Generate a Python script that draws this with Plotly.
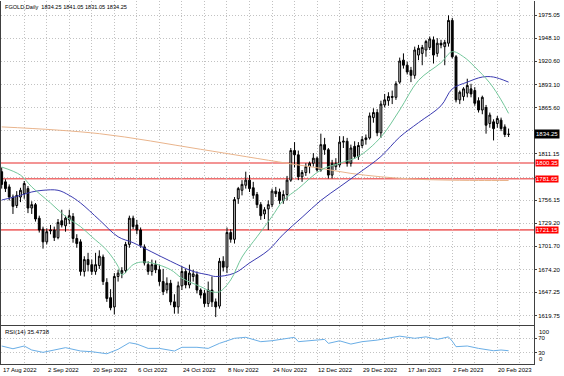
import plotly.graph_objects as go

# ---------------- data ----------------
opens = [1790, 1778, 1772, 1760, 1750, 1760, 1764, 1770, 1747, 1751,
         1735, 1722, 1707, 1720, 1721, 1712, 1732, 1726, 1733, 1737,
         1711, 1707, 1672, 1686, 1680, 1672, 1679, 1689, 1659, 1641,
         1630, 1666, 1670, 1673, 1704, 1735, 1727, 1721, 1701, 1680,
         1672, 1680, 1674, 1660, 1650, 1658, 1636, 1630, 1655, 1672,
         1656, 1666, 1668, 1650, 1646, 1634, 1650, 1636, 1631, 1684,
         1677, 1718, 1710, 1758, 1768, 1774, 1780, 1771, 1763, 1751,
         1740, 1746, 1751, 1767, 1766, 1756, 1763, 1780, 1815, 1810,
         1784, 1789, 1796, 1800, 1806, 1792, 1822, 1816, 1786, 1796,
         1798, 1825, 1826, 1800, 1820, 1808, 1821, 1828, 1830, 1854,
         1860, 1836, 1869, 1874, 1879, 1878, 1896, 1922, 1916, 1910,
         1904, 1928, 1930, 1934, 1937, 1946, 1930, 1942, 1938, 1942,
         1969, 1926, 1875, 1879, 1883, 1888, 1886, 1874, 1863, 1866,
         1847, 1849, 1847, 1851, 1843, 1834.25]
highs = [1795, 1781, 1775, 1763, 1767, 1771, 1779, 1773, 1755, 1753,
         1738, 1725, 1723, 1727, 1725, 1734, 1745, 1738, 1745, 1741,
         1716, 1710, 1690, 1694, 1686, 1694, 1697, 1692, 1664, 1651,
         1670, 1674, 1677, 1707, 1738, 1738, 1733, 1724, 1704, 1684,
         1686, 1685, 1680, 1675, 1665, 1662, 1645, 1660, 1678, 1675,
         1680, 1674, 1672, 1652, 1650, 1660, 1666, 1640, 1688, 1690,
         1724, 1722, 1760, 1772, 1780, 1790, 1786, 1778, 1766, 1754,
         1748, 1756, 1770, 1772, 1770, 1768, 1785, 1818, 1825, 1815,
         1792, 1800, 1802, 1812, 1808, 1835, 1830, 1818, 1804, 1806,
         1832, 1832, 1830, 1822, 1826, 1825, 1832, 1834, 1860, 1865,
         1864, 1874, 1882, 1884, 1886, 1897, 1925, 1930, 1920, 1914,
         1938, 1940, 1940, 1946, 1950, 1950, 1948, 1946, 1946, 1975,
         1972, 1928, 1886, 1890, 1900, 1894, 1890, 1878, 1880, 1869,
         1860, 1852, 1856, 1854, 1846, 1841.05]
lows = [1770, 1766, 1756, 1740, 1747, 1754, 1758, 1741, 1740, 1731,
        1718, 1699, 1704, 1716, 1708, 1710, 1724, 1719, 1728, 1706,
        1700, 1667, 1666, 1672, 1668, 1668, 1675, 1656, 1636, 1626,
        1621, 1660, 1664, 1670, 1700, 1722, 1716, 1700, 1679, 1668,
        1667, 1670, 1655, 1644, 1646, 1632, 1622, 1622, 1650, 1652,
        1652, 1660, 1646, 1640, 1630, 1630, 1630, 1618, 1628, 1672,
        1670, 1706, 1705, 1752, 1762, 1770, 1766, 1758, 1747, 1733,
        1734, 1721, 1748, 1760, 1752, 1752, 1756, 1778, 1795, 1780,
        1778, 1785, 1788, 1796, 1790, 1790, 1810, 1782, 1782, 1792,
        1795, 1818, 1796, 1796, 1805, 1804, 1818, 1822, 1828, 1848,
        1832, 1830, 1866, 1868, 1870, 1875, 1894, 1912, 1905, 1896,
        1900, 1922, 1916, 1926, 1934, 1918, 1926, 1936, 1916, 1938,
        1924, 1872, 1870, 1874, 1878, 1878, 1868, 1860, 1858, 1835,
        1842, 1827, 1842, 1838, 1831, 1831.05]
closes = [1775, 1770, 1760, 1749, 1762, 1768, 1776, 1747, 1751, 1734,
          1721, 1707, 1719, 1721, 1712, 1730, 1727, 1735, 1738, 1711,
          1705, 1672, 1686, 1680, 1672, 1680, 1690, 1660, 1640, 1629,
          1666, 1670, 1673, 1704, 1735, 1725, 1721, 1703, 1682, 1672,
          1680, 1674, 1660, 1648, 1658, 1636, 1630, 1655, 1672, 1656,
          1670, 1669, 1650, 1644, 1634, 1650, 1636, 1630, 1684, 1677,
          1718, 1710, 1757, 1770, 1775, 1780, 1770, 1762, 1751, 1738,
          1745, 1751, 1767, 1764, 1756, 1763, 1780, 1815, 1810, 1784,
          1789, 1796, 1800, 1806, 1792, 1822, 1816, 1786, 1800, 1800,
          1825, 1826, 1800, 1818, 1808, 1821, 1828, 1830, 1856, 1860,
          1836, 1870, 1875, 1879, 1878, 1894, 1921, 1916, 1908, 1904,
          1934, 1936, 1937, 1944, 1947, 1928, 1942, 1940, 1943, 1969,
          1926, 1875, 1884, 1888, 1892, 1882, 1871, 1863, 1878, 1845,
          1857, 1841, 1853, 1841, 1834, 1834.25]
bar_idx = list(range(len(opens)))

# moving averages, read at sampled bars
ma_fast_idx = [0, 5, 8, 13, 17, 21, 24, 28, 31, 32, 35, 37, 40, 45, 48, 53, 56, 58,
               61, 64, 68, 72, 75, 79, 85, 90, 95, 101, 106, 111, 117, 120, 123,
               126, 130, 133, 135]
ma_fast_val = [1795.5, 1786, 1772, 1753, 1737, 1725, 1713, 1697, 1678, 1668, 1680,
               1683, 1682, 1674, 1664, 1654, 1648, 1648, 1662, 1689, 1713, 1737,
               1756, 1770, 1792, 1800, 1808, 1831, 1863, 1898, 1919, 1932, 1926,
               1914, 1895, 1875, 1859]
ma_mid_idx = [0, 5, 8, 11, 15, 18, 21, 26, 31, 35, 40, 45, 51, 55, 57, 62, 66, 71,
              75, 80, 85, 90, 95, 101, 106, 111, 117, 120, 124, 128, 131, 135]
ma_mid_val = [1756.5, 1762, 1766, 1768, 1768, 1762, 1753, 1733, 1713, 1706, 1695,
              1684, 1672, 1668, 1666, 1670, 1682, 1697, 1716, 1736, 1756, 1772,
              1788, 1808, 1831, 1848, 1868, 1888, 1896, 1902, 1902, 1896]
ma_slow_idx = [0, 26, 53, 76, 85, 93, 101, 109, 117, 127, 135]
ma_slow_val = [1843, 1835, 1816.5, 1800, 1794, 1788, 1784, 1781.4, 1780.2, 1779.6, 1779.6]

rsi_idx = [0, 3, 6, 8, 11, 14, 17, 21, 24, 28, 31, 34, 36, 39, 42, 46, 48, 52, 55,
           58, 62, 65, 69, 72, 76, 78, 79, 83, 86, 87, 90, 93, 96, 100, 103, 106,
           110, 113, 116, 119, 120, 121, 124, 127, 131, 133, 135]
rsi_val = [48.6, 41, 48.6, 37.5, 31, 37.5, 44, 34.7, 32.8, 27, 39.4, 57.8, 54, 42,
           42, 34.7, 45, 45, 42, 56, 70, 72.8, 60.6, 63.3, 70, 72.8, 60.6, 65, 67,
           56, 63, 54, 60.6, 65, 70, 76, 70, 74, 67, 74, 62, 46.7, 48.6, 42, 35.5,
           37.5, 35.4738]

grid_idx = list(range(0, 142, 6))
date_tick_idx = [0, 12, 24, 36, 48, 60, 72, 84, 96, 108, 120, 132]
date_tick_text = ["17 Aug 2022", "2 Sep 2022", "20 Sep 2022", "6 Oct 2022",
                  "24 Oct 2022", "8 Nov 2022", "24 Nov 2022", "12 Dec 2022",
                  "29 Dec 2022", "17 Jan 2023", "2 Feb 2023", "20 Feb 2023"]

price_ticks = [1975.05, 1948.10, 1920.60, 1893.10, 1865.60, 1838.65, 1811.15,
               1783.65, 1756.15, 1729.20, 1701.70, 1674.20, 1647.25, 1619.75]
price_tick_text = ["1975.05", "1948.10", "1920.60", "1893.10", "1865.60", "",
                   "1811.15", "", "1756.15", "1729.20", "1701.70", "1674.20",
                   "1647.25", "1619.75"]

levels = [1800.35, 1781.65, 1721.15]
level_text = ["1800.35", "1781.65", "1721.15"]
last_price = 1834.25
title_text = "FGOLD,Daily  1834.25 1841.05 1831.05 1834.25"
rsi_text = "RSI(14) 35.4738"
rsi_ticks = [30, 70]
rsi_edge_vals = [100, 0]

# ---------------- figure ----------------
FONT = "Liberation Sans, Arial, sans-serif"
GRID = "#c2c2c2"
GDASH = "1px,2px"
FRAME = "#404040"

fig = go.Figure()

fig.add_trace(go.Candlestick(
    x=bar_idx, open=opens, high=highs, low=lows, close=closes,
    increasing=dict(line=dict(color="black", width=1), fillcolor="#c4c4c4"),
    decreasing=dict(line=dict(color="black", width=1), fillcolor="black"),
    whiskerwidth=0, showlegend=False, hoverinfo="skip",
    xaxis="x", yaxis="y"))

fig.add_trace(go.Scatter(x=ma_slow_idx, y=ma_slow_val, mode="lines",
                         line=dict(color="#e9b48c", width=1, shape="spline"),
                         showlegend=False, hoverinfo="skip", xaxis="x", yaxis="y"))
fig.add_trace(go.Scatter(x=ma_mid_idx, y=ma_mid_val, mode="lines",
                         line=dict(color="#3a3ab0", width=1, shape="spline"),
                         showlegend=False, hoverinfo="skip", xaxis="x", yaxis="y"))
fig.add_trace(go.Scatter(x=ma_fast_idx, y=ma_fast_val, mode="lines",
                         line=dict(color="#72c69a", width=1, shape="spline"),
                         showlegend=False, hoverinfo="skip", xaxis="x", yaxis="y"))

fig.add_trace(go.Scatter(x=rsi_idx, y=rsi_val, mode="lines",
                         line=dict(color="#6aaee6", width=1),
                         showlegend=False, hoverinfo="skip", xaxis="x2", yaxis="y2"))

# horizontal levels
for lv in levels:
    fig.add_shape(type="line", xref="x domain", yref="y", x0=0, x1=1, y0=lv, y1=lv,
                  line=dict(color="#ef7070", width=1.6), layer="below")

annotations = []
annotations.append(dict(text=title_text, xref="paper", yref="paper", x=0, y=1,
                        xanchor="left", yanchor="top", xshift=2, yshift=-1,
                        showarrow=False, font=dict(family=FONT, size=5.6, color="black")))
annotations.append(dict(text=rsi_text, xref="paper", yref="y2 domain", x=0, y=1,
                        xanchor="left", yanchor="top", xshift=2, yshift=-1,
                        showarrow=False, font=dict(family=FONT, size=6, color="black")))
for v, t in zip(levels, level_text):
    annotations.append(dict(text=t, xref="paper", yref="y", x=1, y=v,
                            xanchor="left", yanchor="middle", xshift=1,
                            showarrow=False, bgcolor="#ff0000", borderpad=0,
                            font=dict(family=FONT, size=6, color="white")))
annotations.append(dict(text=f"{last_price:.2f}", xref="paper", yref="y", x=1, y=last_price,
                        xanchor="left", yanchor="middle", xshift=0,
                        showarrow=False, bgcolor="black", borderpad=1,
                        font=dict(family=FONT, size=6, color="white")))
for i, t in zip(date_tick_idx, date_tick_text):
    annotations.append(dict(text=t, xref="x2", yref="paper", x=i, y=0,
                            xanchor="left", yanchor="top", xshift=-1, yshift=-1,
                            showarrow=False, font=dict(family=FONT, size=6, color="black")))
annotations.append(dict(text=str(rsi_edge_vals[0]), xref="paper", yref="y2", x=1,
                        y=rsi_edge_vals[0], xanchor="left", yanchor="top", xshift=3, yshift=1,
                        showarrow=False, font=dict(family=FONT, size=6, color="black")))
annotations.append(dict(text=str(rsi_edge_vals[1]), xref="paper", yref="y2", x=1,
                        y=rsi_edge_vals[1], xanchor="left", yanchor="bottom", xshift=3, yshift=-1,
                        showarrow=False, font=dict(family=FONT, size=6, color="black")))

xr = [-0.186, 141.77]
fig.update_layout(
    width=564, height=376,
    margin=dict(l=1, r=30, t=1, b=12),
    paper_bgcolor="white", plot_bgcolor="white",
    showlegend=False,
    annotations=annotations,
    xaxis=dict(domain=[0, 1], anchor="y", range=xr, tickmode="array", tickvals=grid_idx,
               showticklabels=False, ticks="", showgrid=True, gridcolor=GRID,
               griddash=GDASH, gridwidth=1, zeroline=False, showline=True,
               linecolor=FRAME, linewidth=1, mirror=False,
               rangeslider=dict(visible=False)),
    yaxis=dict(domain=[0.1088, 1], anchor="x", side="right", range=[1609.2, 1991.97],
               tickmode="array", tickvals=price_ticks, ticktext=price_tick_text,
               tickfont=dict(family=FONT, size=6, color="black"),
               ticks="outside", ticklen=2, tickcolor=FRAME,
               showgrid=True, gridcolor=GRID, griddash=GDASH, gridwidth=1,
               zeroline=False, showline=True, linecolor=FRAME, linewidth=1, mirror=True),
    xaxis2=dict(domain=[0, 1], anchor="y2", range=xr, matches="x",
                tickmode="array", tickvals=grid_idx, showticklabels=False, ticks="",
                showgrid=True, gridcolor=GRID, griddash=GDASH, gridwidth=1,
                zeroline=False, showline=True, linecolor=FRAME, linewidth=1, mirror=True),
    yaxis2=dict(domain=[0, 0.1047], anchor="x2", side="right", range=[-1.4, 104.2],
                tickmode="array", tickvals=rsi_ticks, ticktext=[str(v) for v in rsi_ticks],
                tickfont=dict(family=FONT, size=6, color="black"),
                ticks="outside", ticklen=2, tickcolor=FRAME,
                showgrid=True, gridcolor=GRID, griddash=GDASH, gridwidth=1,
                zeroline=False, showline=True, linecolor=FRAME, linewidth=1, mirror=True),
)

fig.write_html("out.html", config={"displayModeBar": False},
               post_script="document.body.style.margin='0';")
